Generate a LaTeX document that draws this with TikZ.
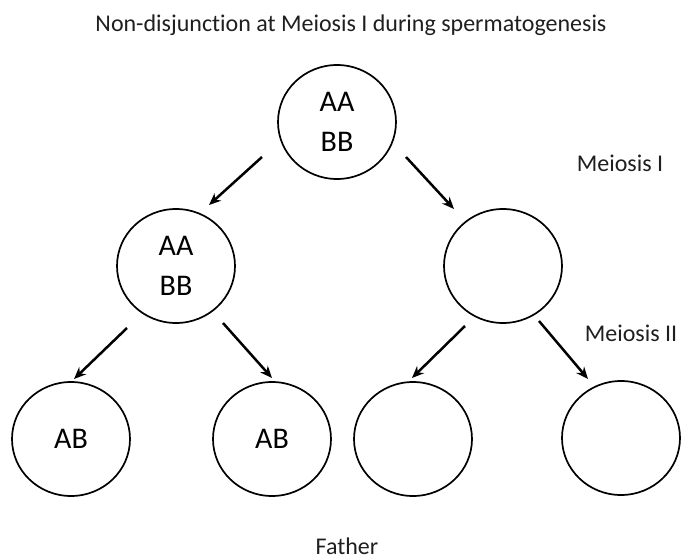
\documentclass[tikz,border=0pt]{standalone}
\usepackage{fontspec}
\setmainfont{Carlito}[Ligatures=NoCommon]
\usetikzlibrary{arrows.meta,shapes.geometric}
\begin{document}
\begin{tikzpicture}[x=1pt,y=-1pt,
  cell/.style={draw=black,line width=1.7pt,ellipse,minimum width=118pt,minimum height=114pt,inner sep=0pt,align=center,font=\fontsize{30}{40}\selectfont},
  lbl/.style={font=\fontsize{24}{29}\selectfont,text=black!88,inner sep=0pt},
  arr/.style={line width=2.5pt,-{Stealth[length=12pt,width=10pt]}}]
\useasboundingbox (0,0) rectangle (681,560);
\node[lbl] (title) at (351,25) {Non-disjunction at Meiosis I during spermatogenesis};
\node[cell] (top) at (337,122) {AA\\BB};
\node[cell] (ml) at (176,266) {AA\\BB};
\node[cell] (mr) at (503,266) {};
\node[cell] (b1) at (71,439) {AB};
\node[cell] (b2) at (272,439) {AB};
\node[cell] (b3) at (413,439) {};
\node[cell] (b4) at (621,438) {};
\node[lbl] (m1) at (620,163) {Meiosis I};
\node[lbl] (m2) at (631,333) {Meiosis II};
\node[lbl] (father) at (347,546) {Father};
\coordinate (a1s) at (262,157); \coordinate (a1e) at (209,205);
\coordinate (a2s) at (406,157); \coordinate (a2e) at (454,209);
\coordinate (a3s) at (127,328); \coordinate (a3e) at (74,379);
\coordinate (a4s) at (223,323); \coordinate (a4e) at (272,378);
\coordinate (a5s) at (465,326); \coordinate (a5e) at (412,378);
\coordinate (a6s) at (539,321); \coordinate (a6e) at (588,379);
\draw[arr] (a1s) -- (a1e);
\draw[arr] (a2s) -- (a2e);
\draw[arr] (a3s) -- (a3e);
\draw[arr] (a4s) -- (a4e);
\draw[arr] (a5s) -- (a5e);
\draw[arr] (a6s) -- (a6e);
\end{tikzpicture}
\end{document}
